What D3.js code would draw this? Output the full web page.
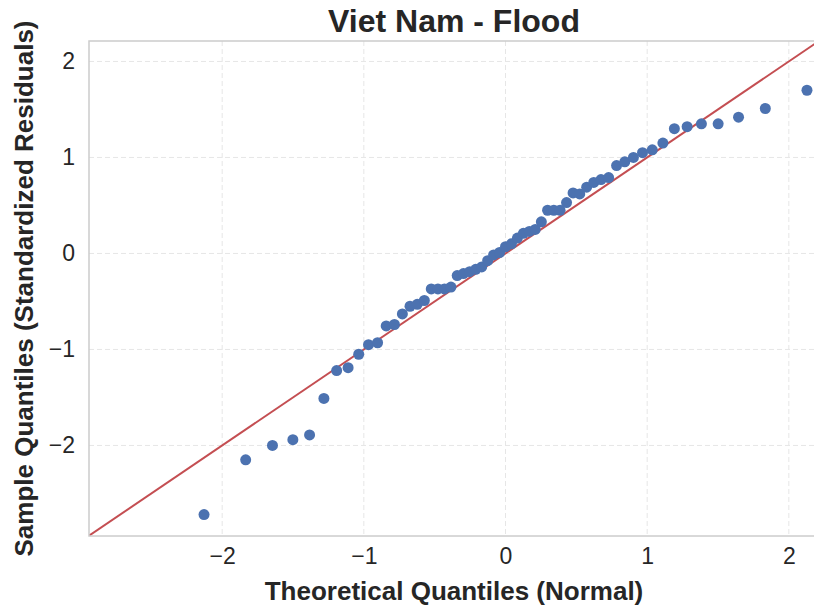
<!DOCTYPE html>
<html>
<head>
<meta charset="utf-8">
<script src="https://cdn.jsdelivr.net/npm/d3@7"></script>
<style>
  body { margin: 0; background: #fff; }
  svg { display: block; font-family: "Liberation Sans", Arial, sans-serif; }
</style>
</head>
<body>
<div id="chart"></div>
<script>
"use strict";

// theoretical normal quantiles (x) and standardized residuals (y)
var theoretical = [
  -2.128, -1.834, -1.645, -1.501, -1.383, -1.282, -1.192, -1.111, -1.036, -0.967,
  -0.903, -0.842, -0.784, -0.728, -0.674, -0.623, -0.573, -0.524, -0.477, -0.431,
  -0.385, -0.341, -0.297, -0.253, -0.210, -0.168, -0.126, -0.084, -0.042, 0.000,
  0.042, 0.084, 0.126, 0.168, 0.210, 0.253, 0.297, 0.341, 0.385, 0.431,
  0.477, 0.524, 0.573, 0.623, 0.674, 0.728, 0.784, 0.842, 0.903, 0.967,
  1.036, 1.111, 1.192, 1.282, 1.383, 1.501, 1.645, 1.834, 2.128
];
var residuals = [
  -2.72, -2.15, -2.00, -1.94, -1.89, -1.51, -1.22, -1.19, -1.05, -0.95,
  -0.93, -0.755, -0.74, -0.63, -0.55, -0.53, -0.49, -0.37, -0.37, -0.37,
  -0.35, -0.23, -0.21, -0.19, -0.165, -0.14, -0.075, -0.015, 0.01, 0.07,
  0.10, 0.16, 0.21, 0.23, 0.25, 0.33, 0.45, 0.45, 0.45, 0.53,
  0.63, 0.62, 0.69, 0.74, 0.77, 0.79, 0.915, 0.955, 1.00, 1.05,
  1.08, 1.15, 1.30, 1.32, 1.35, 1.35, 1.42, 1.51, 1.70
];
var xTicks = [-2, -1, 0, 1, 2];
var yTicks = [-2, -1, 0, 1, 2];
var xDomain = [-2.94, 2.22];
var yDomain = [-2.943, 2.213];

var width = 814, height = 611;
var margin = {top: 41, right: -6, bottom: 75, left: 89};

var svg = d3.select("#chart").append("svg")
  .attr("width", width)
  .attr("height", height);

var x = d3.scaleLinear().domain(xDomain).range([margin.left, width - margin.right]);
var y = d3.scaleLinear().domain(yDomain).range([height - margin.bottom, margin.top]);

svg.append("clipPath").attr("id", "plot-clip")
  .append("rect")
  .attr("x", margin.left).attr("y", margin.top)
  .attr("width", x.range()[1] - margin.left)
  .attr("height", y.range()[0] - margin.top);

// grid
var grid = svg.append("g").attr("class", "grid");
grid.selectAll("line.vx")
  .data(xTicks)
  .enter().append("line")
  .attr("x1", d => x(d)).attr("x2", d => x(d))
  .attr("y1", margin.top).attr("y2", y.range()[0])
  .attr("stroke", "#e6e6e6").attr("stroke-width", 1)
  .attr("stroke-dasharray", "5,3");
grid.selectAll("line.hy")
  .data(yTicks)
  .enter().append("line")
  .attr("y1", d => y(d)).attr("y2", d => y(d))
  .attr("x1", margin.left).attr("x2", x.range()[1])
  .attr("stroke", "#e6e6e6").attr("stroke-width", 1)
  .attr("stroke-dasharray", "5,3");

// 45-degree reference line
var plot = svg.append("g").attr("clip-path", "url(#plot-clip)");
plot.append("line")
  .attr("x1", x(xDomain[0])).attr("y1", y(xDomain[0]))
  .attr("x2", x(xDomain[1])).attr("y2", y(xDomain[1]))
  .attr("stroke", "#c44e52").attr("stroke-width", 2);

plot.selectAll("circle")
  .data(theoretical)
  .enter().append("circle")
  .attr("cx", d => x(d))
  .attr("cy", (d, i) => y(residuals[i]))
  .attr("r", 5.5)
  .attr("fill", "#4c72b0");

// frame
svg.append("rect")
  .attr("x", margin.left).attr("y", margin.top)
  .attr("width", x.range()[1] - margin.left)
  .attr("height", y.range()[0] - margin.top)
  .attr("fill", "none")
  .attr("stroke", "#cccccc").attr("stroke-width", 1.5);

// axes
var fmt = d => d3.format("d")(d).replace("-", "\u2212");
var xAxis = svg.append("g")
  .attr("transform", "translate(0," + y.range()[0] + ")")
  .call(d3.axisBottom(x).tickValues(xTicks).tickSize(0).tickPadding(12).tickFormat(fmt));
var yAxis = svg.append("g")
  .attr("transform", "translate(" + margin.left + ",0)")
  .call(d3.axisLeft(y).tickValues(yTicks).tickSize(0).tickPadding(14).tickFormat(fmt));
[xAxis, yAxis].forEach(function(a) {
  a.select(".domain").remove();
  a.selectAll("text")
    .attr("font-family", "Liberation Sans, Arial, sans-serif")
    .attr("font-size", 23)
    .attr("fill", "#262626");
});

// labels
svg.append("text")
  .attr("x", 454).attr("y", 32)
  .attr("text-anchor", "middle")
  .attr("font-size", 32).attr("font-weight", "bold")
  .attr("fill", "#262626")
  .text("Viet Nam - Flood");

svg.append("text")
  .attr("x", 454).attr("y", 600)
  .attr("text-anchor", "middle")
  .attr("font-size", 26).attr("font-weight", "bold")
  .attr("fill", "#262626")
  .text("Theoretical Quantiles (Normal)");

svg.append("text")
  .attr("transform", "translate(33," + ((margin.top + y.range()[0]) / 2) + ") rotate(-90)")
  .attr("text-anchor", "middle")
  .attr("font-size", 26).attr("font-weight", "bold")
  .attr("fill", "#262626")
  .text("Sample Quantiles (Standardized Residuals)");
</script>
</body>
</html>
